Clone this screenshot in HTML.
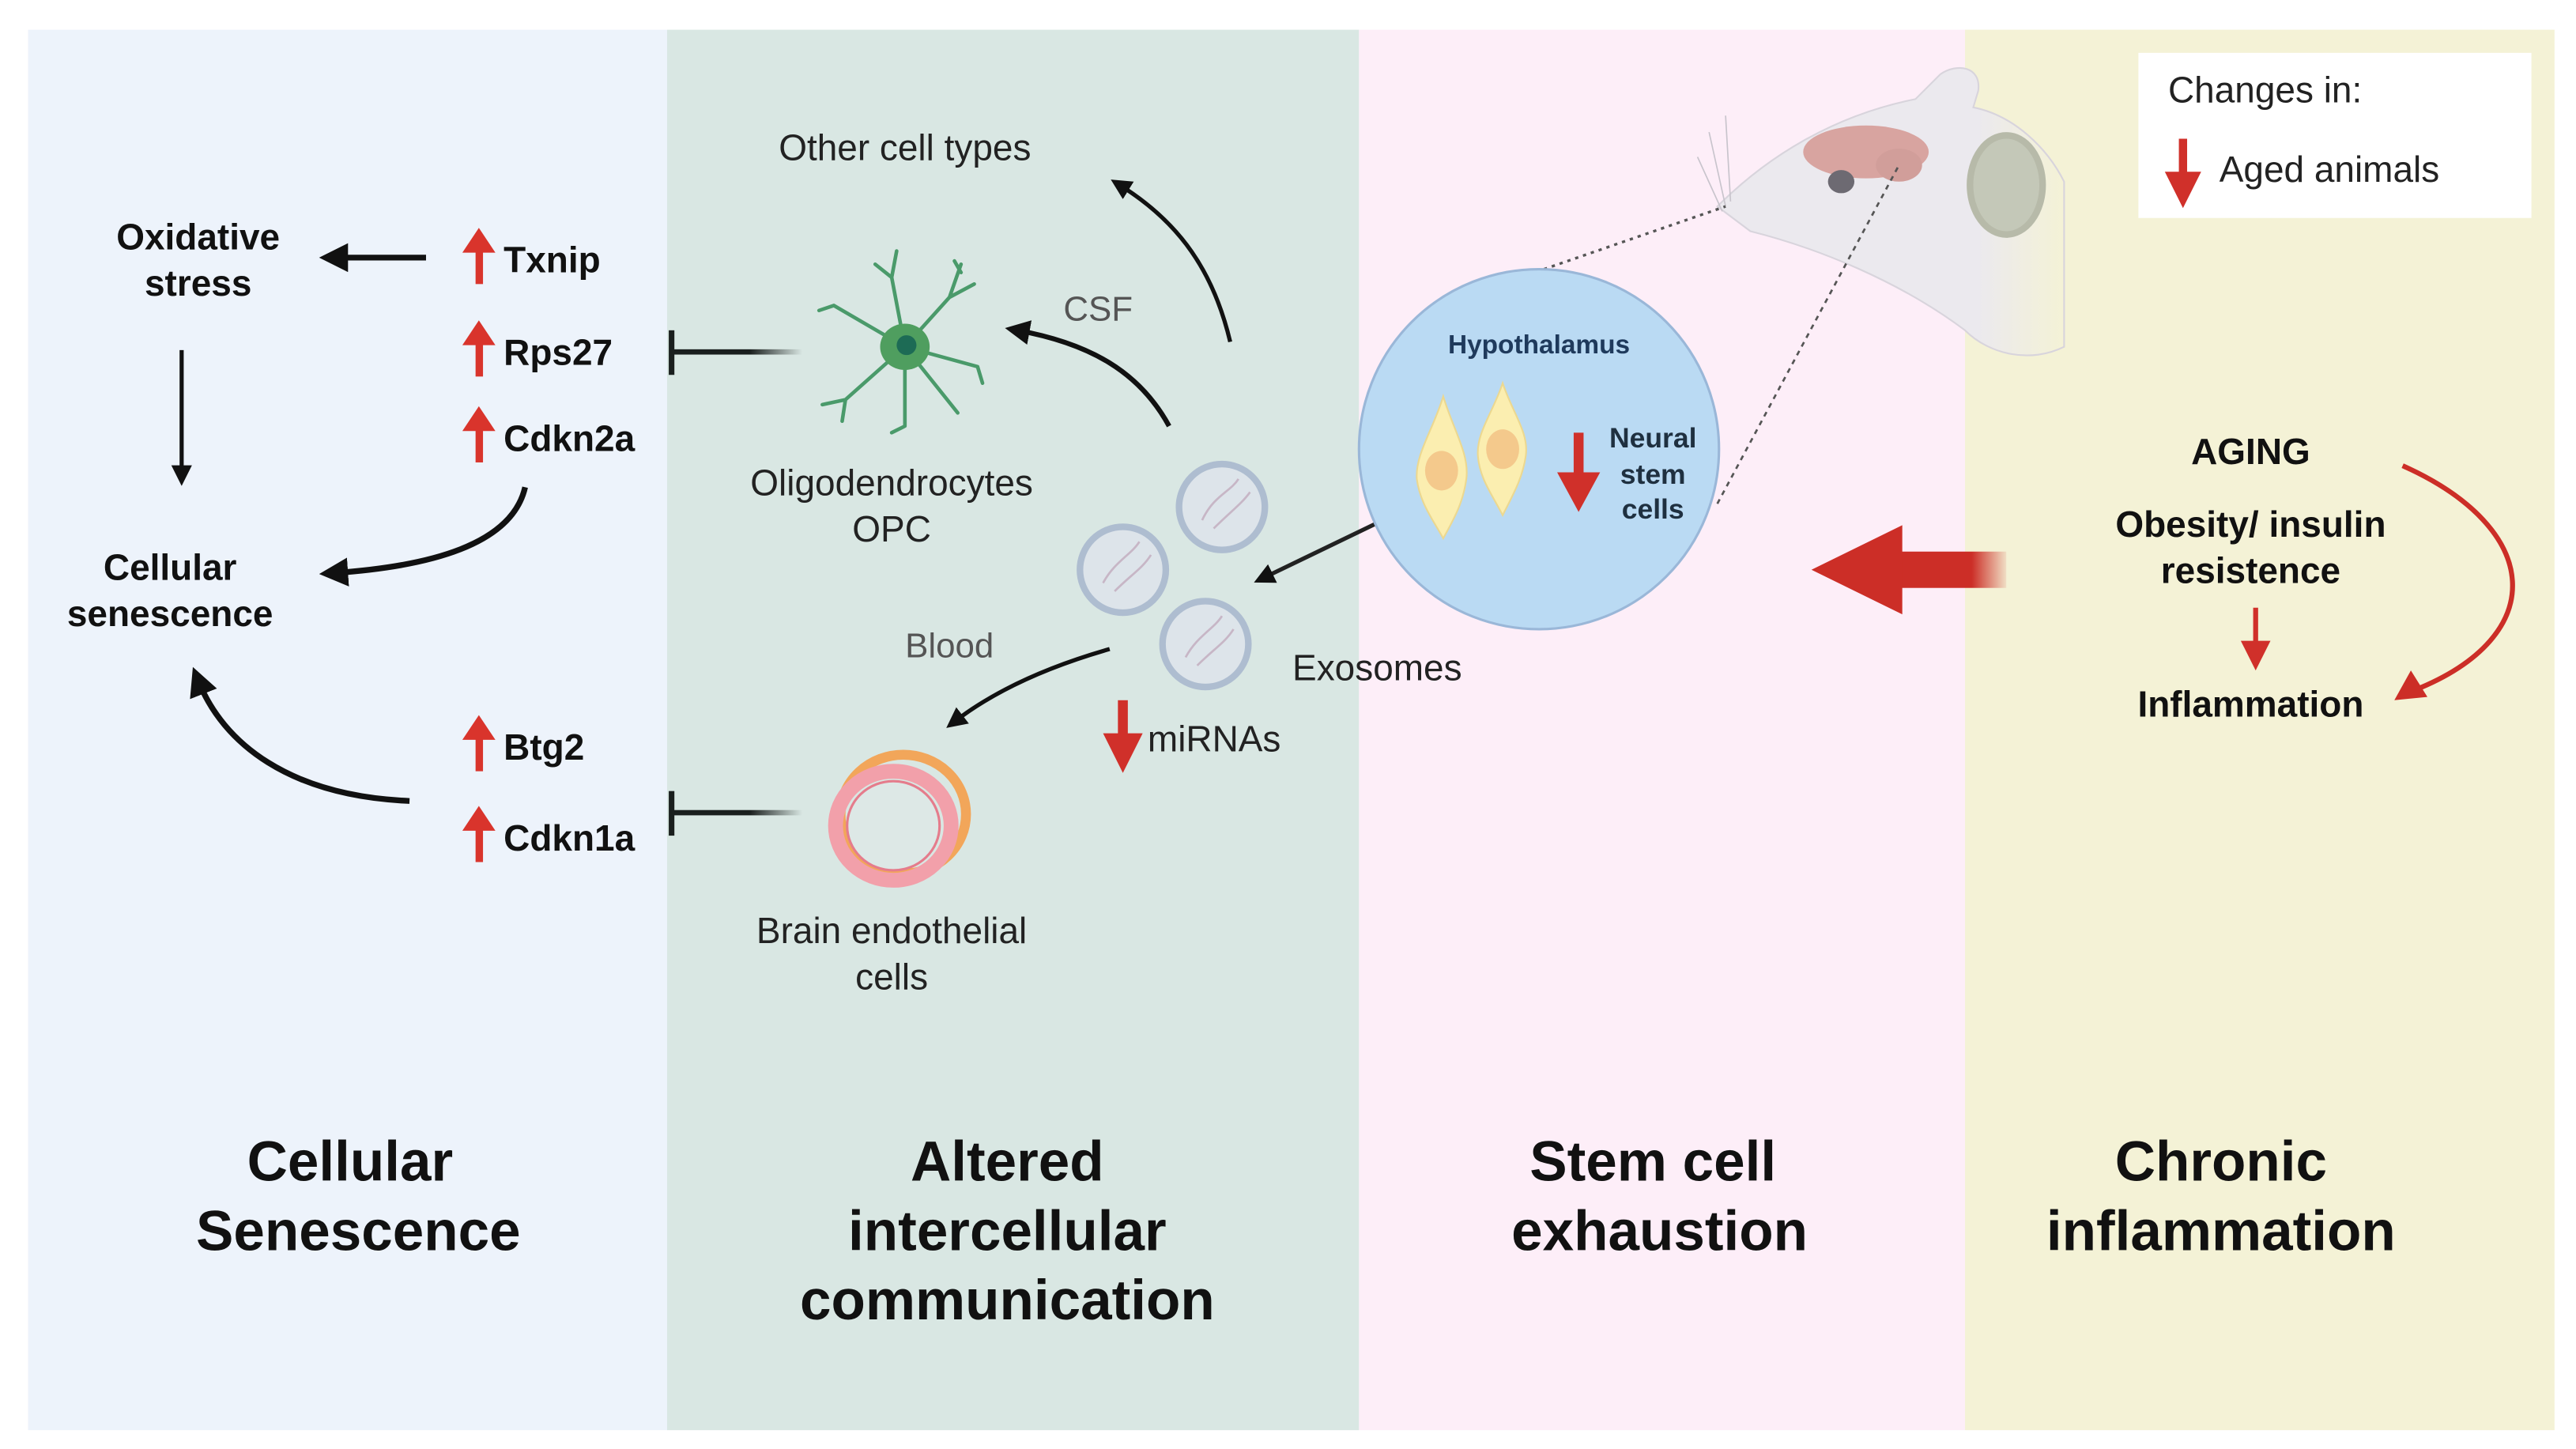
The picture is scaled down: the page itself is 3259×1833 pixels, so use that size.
<!DOCTYPE html>
<html><head><meta charset="utf-8">
<style>
html,body{margin:0;padding:0;background:#fff;}
svg{display:block;}
text{font-family:"Liberation Sans",Arial,sans-serif;}
.b{font-weight:bold;fill:#111;}
.r{fill:#222;}
</style></head>
<body>
<svg width="3259" height="1833" viewBox="0 0 1560 877.4" preserveAspectRatio="none" xmlns="http://www.w3.org/2000/svg">
<defs>
<marker id="ah" viewBox="0 0 10 10" refX="5" refY="5" markerWidth="5" markerHeight="5" orient="auto-start-reverse" markerUnits="strokeWidth">
<path d="M0,0 L10,5 L0,10 z" fill="#111"/></marker>
<linearGradient id="fadeL" x1="0" x2="1"><stop offset="0" stop-color="#1a1f1e"/><stop offset="0.6" stop-color="#1a1f1e"/><stop offset="1" stop-color="#1a1f1e" stop-opacity="0"/></linearGradient>
<linearGradient id="bigArr" x1="0" x2="1"><stop offset="0" stop-color="#cc2e27"/><stop offset="0.7" stop-color="#cc2e27"/><stop offset="1" stop-color="#cc2e27" stop-opacity="0.1"/></linearGradient>
<linearGradient id="mouseFade" x1="0" x2="1"><stop offset="0" stop-color="#ebe9ee"/><stop offset="0.75" stop-color="#ebe9ee"/><stop offset="1" stop-color="#ebe9ee" stop-opacity="0"/></linearGradient>
</defs>
<rect width="1560" height="877.4" fill="#fff"/>
<!-- panels -->
<rect x="17" y="18" width="387" height="848" fill="#edf3fb"/>
<rect x="404" y="18" width="419" height="848" fill="#d9e7e3"/>
<rect x="823" y="18" width="367" height="848" fill="#fdeef8"/>
<rect x="1190" y="18" width="357" height="848" fill="#f4f2d6"/>

<!-- Mouse head -->
<path d="M1040,125 C1070,95 1110,70 1160,60 L1175,45 C1185,38 1200,40 1198,55 L1195,65 C1220,70 1240,90 1250,110 L1250,210 C1230,220 1205,215 1190,200 C1150,170 1100,150 1060,140 Z" fill="url(#mouseFade)" stroke="#d8d4dc" stroke-width="1"/>
<ellipse cx="1130" cy="92" rx="38" ry="16" fill="#d8a4a0"/>
<ellipse cx="1150" cy="100" rx="14" ry="10" fill="#d19e9a"/>
<ellipse cx="1115" cy="110" rx="8" ry="7" fill="#6d6a72"/>
<ellipse cx="1215" cy="112" rx="22" ry="30" fill="#c4c8b8" stroke="#b7baa9" stroke-width="4"/>
<path d="M1035,80 L1045,125 M1028,95 L1043,128 M1045,70 L1048,122" stroke="#c8c4cc" stroke-width="0.8"/>
<!-- dotted lines -->
<line x1="935" y1="163" x2="1045" y2="125" stroke="#555" stroke-width="1.6" stroke-dasharray="2,3"/>
<line x1="1040" y1="305" x2="1150" y2="100" stroke="#555" stroke-width="1.3" stroke-dasharray="3,3"/>

<!-- Legend -->
<rect x="1295" y="32" width="238" height="100" fill="#fff"/>
<text x="1313" y="62" font-size="22" class="r">Changes in:</text>
<line x1="1322" y1="84" x2="1322" y2="108" stroke="#d0302a" stroke-width="5"/>
<path d="M1311,104 L1333,104 L1322,126 Z" fill="#d0302a"/>
<text x="1344" y="110" font-size="22" class="r">Aged animals</text>

<!-- Panel 1 -->
<text x="120" y="151" font-size="22" class="b" text-anchor="middle">Oxidative</text>
<text x="120" y="179" font-size="22" class="b" text-anchor="middle">stress</text>
<line x1="258" y1="156" x2="202" y2="156" stroke="#111" stroke-width="3.5" marker-end="url(#ah)"/>
<line x1="110" y1="212" x2="110" y2="288" stroke="#111" stroke-width="2.5" marker-end="url(#ah)"/>
<text x="103" y="351" font-size="22" class="b" text-anchor="middle">Cellular</text>
<text x="103" y="379" font-size="22" class="b" text-anchor="middle">senescence</text>
<path d="M318,295 C310,330 260,343 202,347" fill="none" stroke="#111" stroke-width="3.5" marker-end="url(#ah)"/>
<path d="M248,485 C175,482 135,450 120,412" fill="none" stroke="#111" stroke-width="3.5" marker-end="url(#ah)"/>
<g fill="#d9342c">
<rect x="288" y="150" width="4.5" height="22"/><path d="M280,153 L290,138 L300,153 Z"/>
<rect x="288" y="206" width="4.5" height="22"/><path d="M280,209 L290,194 L300,209 Z"/>
<rect x="288" y="258" width="4.5" height="22"/><path d="M280,261 L290,246 L300,261 Z"/>
<rect x="288" y="445" width="4.5" height="22"/><path d="M280,448 L290,433 L300,448 Z"/>
<rect x="288" y="500" width="4.5" height="22"/><path d="M280,503 L290,488 L300,503 Z"/>
</g>
<text x="305" y="165" font-size="22" class="b">Txnip</text>
<text x="305" y="221" font-size="22" class="b">Rps27</text>
<text x="305" y="273" font-size="22" class="b">Cdkn2a</text>
<text x="305" y="460" font-size="22" class="b">Btg2</text>
<text x="305" y="515" font-size="22" class="b">Cdkn1a</text>
<!-- inhibition -->
<rect x="406" y="211.5" width="80" height="3.2" fill="url(#fadeL)"/>
<rect x="405" y="200" width="3.4" height="27" fill="#1a1f1e"/>
<rect x="406" y="490.5" width="80" height="3.2" fill="url(#fadeL)"/>
<rect x="405" y="479" width="3.4" height="27" fill="#1a1f1e"/>

<!-- Panel 2 -->
<text x="548" y="97" font-size="22" class="r" text-anchor="middle">Other cell types</text>
<path d="M745,207 C735,165 715,135 678,112" fill="none" stroke="#111" stroke-width="2.5" marker-end="url(#ah)"/>
<text x="665" y="194" font-size="21" fill="#555" text-anchor="middle">CSF</text>
<path d="M708,258 C690,225 660,208 616,200" fill="none" stroke="#111" stroke-width="3" marker-end="url(#ah)"/>
<!-- oligodendrocyte -->
<g stroke="#4a9a6a" stroke-width="2.2" fill="none" stroke-linecap="round">
<path d="M548,210 L540,168 M540,168 L530,160 M540,168 L543,152"/>
<path d="M548,210 L575,180 M575,180 L582,160 M575,180 L590,172 M582,165 L578,158"/>
<path d="M548,210 L505,185 M505,185 L496,188"/>
<path d="M548,210 L592,222 M592,222 L595,232"/>
<path d="M548,210 L512,242 M512,242 L498,245 M512,242 L510,255"/>
<path d="M548,210 L548,258 M548,258 L540,262"/>
<path d="M548,210 L580,250"/>
</g>
<ellipse cx="548" cy="210" rx="15" ry="14" fill="#4f9e5f"/>
<ellipse cx="549" cy="209" rx="6" ry="6" fill="#1d6b55"/>
<text x="540" y="300" font-size="22" class="r" text-anchor="middle">Oligodendrocytes</text>
<text x="540" y="328" font-size="22" class="r" text-anchor="middle">OPC</text>
<!-- exosomes -->
<g fill="#dde4ea" stroke="#aebdd0" stroke-width="4">
<circle cx="740" cy="307" r="26"/><circle cx="680" cy="345" r="26"/><circle cx="730" cy="390" r="26"/>
</g>
<g fill="none" stroke="#c7b6c6" stroke-width="1.3">
<path d="M728,315 C735,300 745,298 750,290 M735,320 C745,310 752,305 757,298"/>
<path d="M668,353 C675,340 685,336 690,328 M675,358 C685,348 692,344 697,336"/>
<path d="M718,398 C725,385 735,381 740,373 M725,403 C735,393 742,389 747,381"/>
</g>
<text x="834" y="412" font-size="22" class="r" text-anchor="middle">Exosomes</text>
<text x="575" y="398" font-size="21" fill="#555" text-anchor="middle">Blood</text>
<line x1="852" y1="308" x2="765" y2="350" stroke="#222" stroke-width="2.5" marker-end="url(#ah)"/>
<path d="M672,393 C630,405 600,420 578,437" fill="none" stroke="#111" stroke-width="2.5" marker-end="url(#ah)"/>
<rect x="677" y="424" width="6" height="24" fill="#d0302a"/>
<path d="M668,444 L692,444 L680,468 Z" fill="#d0302a"/>
<text x="695" y="455" font-size="22" class="r">miRNAs</text>
<!-- endothelial -->
<ellipse cx="547" cy="493" rx="38" ry="36" fill="none" stroke="#f2a65a" stroke-width="6"/>
<ellipse cx="541" cy="500" rx="35" ry="33" fill="none" stroke="#f2a0aa" stroke-width="9"/>
<ellipse cx="541" cy="500" rx="28" ry="27" fill="#dde8e6" stroke="#e57c8c" stroke-width="1.5"/>
<text x="540" y="571" font-size="22" class="r" text-anchor="middle">Brain endothelial</text>
<text x="540" y="599" font-size="22" class="r" text-anchor="middle">cells</text>

<!-- Panel 3 hypothalamus -->
<circle cx="932" cy="272" r="109" fill="#badaf3" stroke="#9ab7d8" stroke-width="1.5"/>
<text x="932" y="214" font-size="16" font-weight="bold" fill="#1f3a5c" text-anchor="middle">Hypothalamus</text>
<path d="M874,240 C880,260 890,275 888,290 C886,305 880,315 874,326 C868,315 860,305 858,290 C857,275 868,260 874,240 Z" fill="#fbeeb0" stroke="#ecd890" stroke-width="1"/>
<ellipse cx="873" cy="285" rx="10" ry="12" fill="#f4c98c"/>
<path d="M910,232 C916,250 926,262 924,276 C922,290 916,300 910,312 C904,300 896,290 895,276 C894,262 904,250 910,232 Z" fill="#fbeeb0" stroke="#ecd890" stroke-width="1"/>
<ellipse cx="910" cy="272" rx="10" ry="12" fill="#f4c98c"/>
<rect x="953" y="262" width="6" height="28" fill="#d0302a"/>
<path d="M943,286 L969,286 L956,310 Z" fill="#d0302a"/>
<g font-size="17" font-weight="bold" fill="#1f3040" text-anchor="middle">
<text x="1001" y="271">Neural</text><text x="1001" y="293">stem</text><text x="1001" y="314">cells</text></g>
<!-- big red arrow -->
<rect x="1145" y="334" width="70" height="22" fill="url(#bigArr)"/>
<path d="M1097,345 L1152,318 L1152,372 Z" fill="#cc2e27"/>

<!-- Panel 4 -->
<g font-size="22" font-weight="bold" fill="#111" text-anchor="middle">
<text x="1363" y="281">AGING</text>
<text x="1363" y="325">Obesity/ insulin</text>
<text x="1363" y="353">resistence</text>
<text x="1363" y="434">Inflammation</text></g>
<line x1="1366" y1="368" x2="1366" y2="390" stroke="#d0302a" stroke-width="3"/>
<path d="M1357,388 L1375,388 L1366,406 Z" fill="#d0302a"/>
<path d="M1455,282 C1540,320 1545,385 1462,418" fill="none" stroke="#cc2e27" stroke-width="3"/>
<path d="M1450,424 L1460,406 L1470,422 Z" fill="#cc2e27"/>

<!-- Titles -->
<g font-size="34" font-weight="bold" fill="#111" text-anchor="middle">
<text x="212" y="715">Cellular</text><text x="217" y="757">Senescence</text>
<text x="610" y="715">Altered</text><text x="610" y="757">intercellular</text><text x="610" y="799">communication</text>
<text x="1001" y="715">Stem cell</text><text x="1005" y="757">exhaustion</text>
<text x="1345" y="715">Chronic</text><text x="1345" y="757">inflammation</text>
</g>
</svg>
</body></html>
